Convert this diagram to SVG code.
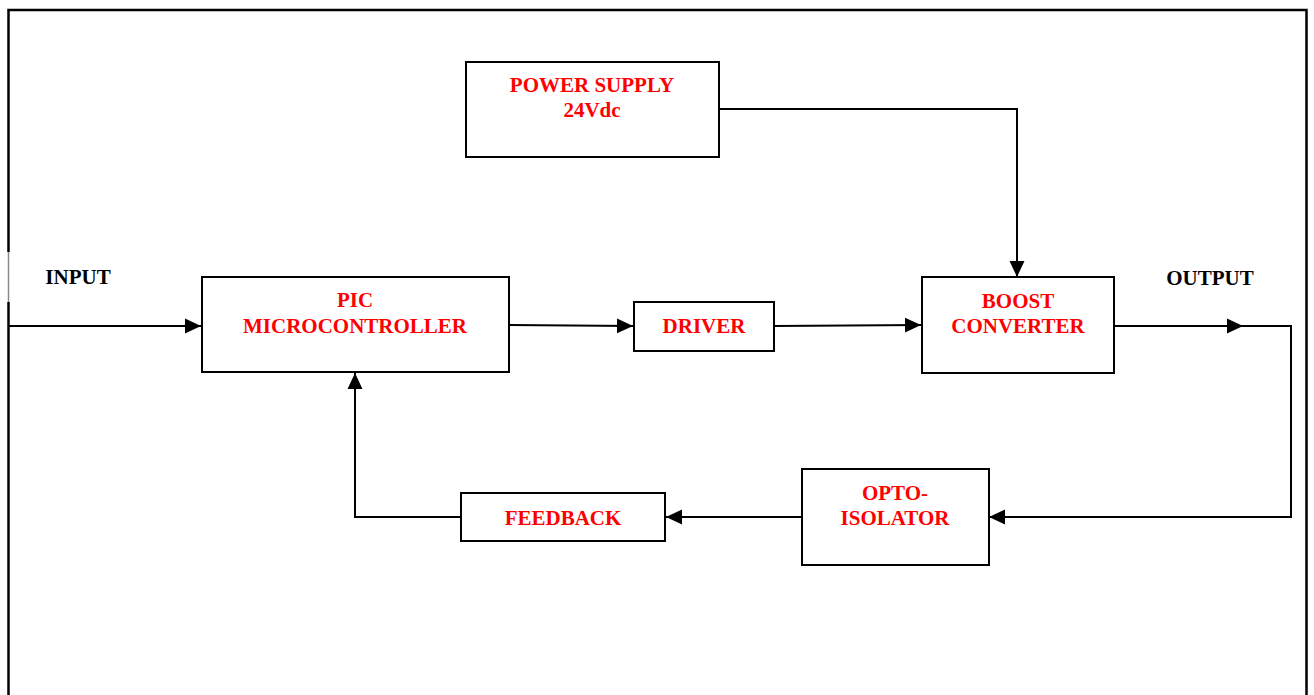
<svg xmlns="http://www.w3.org/2000/svg" width="1314" height="695" viewBox="0 0 1314 695">
<style>
.box{fill:#fff;stroke:#000;stroke-width:2}
.lbl{font-family:"Liberation Serif","Times New Roman",serif;font-weight:bold;font-size:21px;fill:#ff0000;text-anchor:middle}
.io{font-family:"Liberation Serif","Times New Roman",serif;font-weight:bold;font-size:21px;fill:#000;text-anchor:middle}
.ln{fill:none;stroke:#000;stroke-width:2}
</style>
<defs>
<marker id="arr" markerUnits="userSpaceOnUse" markerWidth="16" markerHeight="16" viewBox="0 0 15 14" refX="15" refY="7" orient="auto">
<polygon points="0,0 15,7 0,14" fill="#000"/>
</marker>
</defs>
<rect width="1314" height="695" fill="#fff"/>
<g id="frame">
<path d="M8.5,252 V10 H1306.5 V695" fill="none" stroke="#000" stroke-width="2.5"/>
<path d="M8.5,252 V302" fill="none" stroke="#888" stroke-width="1.5"/>
<path d="M8.5,302 V695" fill="none" stroke="#000" stroke-width="2.5"/>
</g>
<g id="connectors">
<path class="ln" d="M8,326 H201" marker-end="url(#arr)"/>
<path class="ln" d="M509,325 L633,326" marker-end="url(#arr)"/>
<path class="ln" d="M774,326 L921,325" marker-end="url(#arr)"/>
<path class="ln" d="M719,109 H1017 V277" marker-end="url(#arr)"/>
<path class="ln" d="M1114,326 H1243" marker-end="url(#arr)"/>
<path class="ln" d="M1243,326 H1291 V517 H989" marker-end="url(#arr)"/>
<path class="ln" d="M801,517 H666" marker-end="url(#arr)"/>
<path class="ln" d="M460,517 H355 V373" marker-end="url(#arr)"/>
</g>
<g id="power-supply">
<rect class="box" x="466" y="62" width="253" height="95"/>
<text class="lbl" x="592" y="92">POWER SUPPLY</text>
<text class="lbl" x="592" y="117">24Vdc</text>
</g>
<g id="pic">
<rect class="box" x="202" y="277" width="307" height="95"/>
<text class="lbl" x="355" y="307">PIC</text>
<text class="lbl" x="355" y="333">MICROCONTROLLER</text>
</g>
<g id="driver">
<rect class="box" x="634" y="302" width="140" height="49"/>
<text class="lbl" x="704" y="333">DRIVER</text>
</g>
<g id="boost">
<rect class="box" x="922" y="277" width="192" height="96"/>
<text class="lbl" x="1018" y="308">BOOST</text>
<text class="lbl" x="1018" y="333">CONVERTER</text>
</g>
<g id="opto">
<rect class="box" x="802" y="469" width="187" height="96"/>
<text class="lbl" x="895" y="500">OPTO-</text>
<text class="lbl" x="895" y="525">ISOLATOR</text>
</g>
<g id="feedback">
<rect class="box" x="461" y="493" width="204" height="48"/>
<text class="lbl" x="563" y="525">FEEDBACK</text>
</g>
<g id="labels">
<text class="io" x="78" y="284">INPUT</text>
<text class="io" x="1210" y="285">OUTPUT</text>
</g>
</svg>
